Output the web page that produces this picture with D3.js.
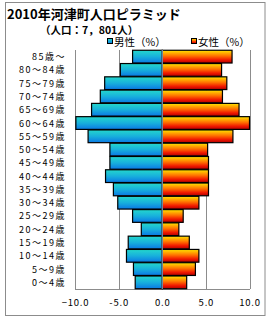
<!DOCTYPE html>
<html lang="ja">
  <head>
    <meta charset="utf-8">
    <style>
      body { margin: 0; background: #fff; }
      text { font-family: "Noto Sans CJK JP", sans-serif; fill: #000; }
      .grid line { stroke: #8c8c8c; }
    </style>
  </head>
  <body>
    <svg id="container" width="270" height="320"></svg>
  </body>
  <script src="https://d3js.org/d3.v7.min.js"></script>
  <script>
    let ages = ["85歳〜", "80〜84歳", "75〜79歳", "70〜74歳", "65〜69歳", "60〜64歳",
                "55〜59歳", "50〜54歳", "45〜49歳", "40〜44歳", "35〜39歳", "30〜34歳",
                "25〜29歳", "20〜24歳", "15〜19歳", "10〜14歳", "5〜9歳", "0〜4歳"]
    let male = [3.4, 4.8, 6.6, 7.1, 8.1, 9.9, 8.5, 6.0, 6.0, 6.5, 5.6, 5.1, 3.4, 2.4, 3.9, 4.1, 3.3, 3.1]
    let female = [8.0, 6.8, 7.4, 6.9, 8.8, 10.0, 8.1, 5.2, 5.3, 5.3, 5.3, 4.2, 2.4, 1.9, 3.1, 4.2, 3.8, 2.8]
    let ticks = [-10, -5, 0, 5, 10]
    let tickLabels = ["−10.0", "-5.0", "0.0", "5.0", "10.0"]

    let svg = d3.select("#container")

    let defs = svg.append("defs")
    let gm = defs.append("linearGradient").attr("id", "gm")
        .attr("x1", 0).attr("y1", 0).attr("x2", 0).attr("y2", 1)
    gm.append("stop").attr("offset", "0%").attr("stop-color", "#24d8cc")
    gm.append("stop").attr("offset", "50%").attr("stop-color", "#18b0dc")
    gm.append("stop").attr("offset", "100%").attr("stop-color", "#0a78e4")
    let gf = defs.append("linearGradient").attr("id", "gf")
        .attr("x1", 0).attr("y1", 0).attr("x2", 0).attr("y2", 1)
    gf.append("stop").attr("offset", "0%").attr("stop-color", "#ffe600")
    gf.append("stop").attr("offset", "45%").attr("stop-color", "#ff7000")
    gf.append("stop").attr("offset", "75%").attr("stop-color", "#f01800")
    gf.append("stop").attr("offset", "100%").attr("stop-color", "#b00000")

    // outer frame
    svg.append("rect")
        .attr("x", 5.5).attr("y", 2.5).attr("width", 259.5).attr("height", 313)
        .attr("fill", "none").attr("stroke", "#8c8c8c")

    let x = d3.scaleLinear().domain([-10, 10]).range([75, 249.5])
    let y = d3.scaleBand().domain(ages).range([50, 289]).paddingInner(0.04).paddingOuter(0.02)

    // titles
    svg.append("text").attr("x", 7).attr("y", 19)
        .style("font-size", "13px").style("font-weight", "bold")
        .text("2010年河津町人口ピラミッド")
    svg.append("text").attr("x", 40).attr("y", 33.5)
        .style("font-size", "10.5px").style("font-weight", "bold")
        .text("（人口：7，801人）")

    // legend
    let legend = [["男性（%）", "url(#gm)", 107], ["女性（%）", "url(#gf)", 191]]
    legend.forEach(function (d) {
        svg.append("rect").attr("x", d[2] + 0.5).attr("y", 38.5).attr("width", 5).attr("height", 5)
            .attr("fill", d[1]).attr("stroke", "#000")
        svg.append("text").attr("x", d[2] + 7).attr("y", 45.5)
            .style("font-size", "10.5px").text(d[0])
    })

    // grid
    let grid = svg.append("g").attr("class", "grid")
    grid.selectAll("line.v")
        .data(ticks.filter(t => t !== 0))
        .enter()
        .append("line")
            .attr("x1", d => Math.round(x(d)) + 0.5).attr("x2", d => Math.round(x(d)) + 0.5)
            .attr("y1", 50).attr("y2", 289)
    grid.append("line")
        .attr("x1", x(-10)).attr("x2", x(10) + 0.5)
        .attr("y1", 289.5).attr("y2", 289.5)

    // bars
    svg.append("g").selectAll("rect")
        .data(male)
        .enter()
        .append("rect")
            .attr("x", d => x(-d))
            .attr("y", (d, i) => y(ages[i]))
            .attr("width", d => x(0) - x(-d))
            .attr("height", y.bandwidth())
            .attr("fill", "url(#gm)")
            .attr("stroke", "#000")
            .attr("stroke-width", 1.2)

    svg.append("g").selectAll("rect")
        .data(female)
        .enter()
        .append("rect")
            .attr("x", x(0))
            .attr("y", (d, i) => y(ages[i]))
            .attr("width", d => x(d) - x(0))
            .attr("height", y.bandwidth())
            .attr("fill", "url(#gf)")
            .attr("stroke", "#000")
            .attr("stroke-width", 1.2)

    // zero line
    svg.append("line")
        .attr("x1", x(0)).attr("x2", x(0))
        .attr("y1", 50).attr("y2", 289)
        .attr("stroke", "#7d9cb8").attr("stroke-width", 1.2)

    // category labels
    svg.append("g").selectAll("text")
        .data(ages)
        .enter()
        .append("text")
            .attr("x", 66)
            .attr("y", d => y(d) + y.bandwidth() / 2 + 3.5)
            .attr("text-anchor", "end")
            .style("font-size", "9px")
            .style("letter-spacing", "1.5px")
            .text(d => d)

    // x axis
    let axis = d3.axisBottom(x)
        .tickValues(ticks)
        .tickSize(0)
        .tickPadding(0)
        .tickFormat((d, i) => tickLabels[i])
    let ax = svg.append("g").attr("transform", "translate(0,299)").call(axis)
    ax.select(".domain").remove()
    ax.selectAll("text")
        .style("font-size", "9.5px")
        .style("letter-spacing", "0.8px")
        .style("font-family", "'Noto Sans CJK JP', sans-serif")
        .attr("fill", "#000")
  </script>
</html>
